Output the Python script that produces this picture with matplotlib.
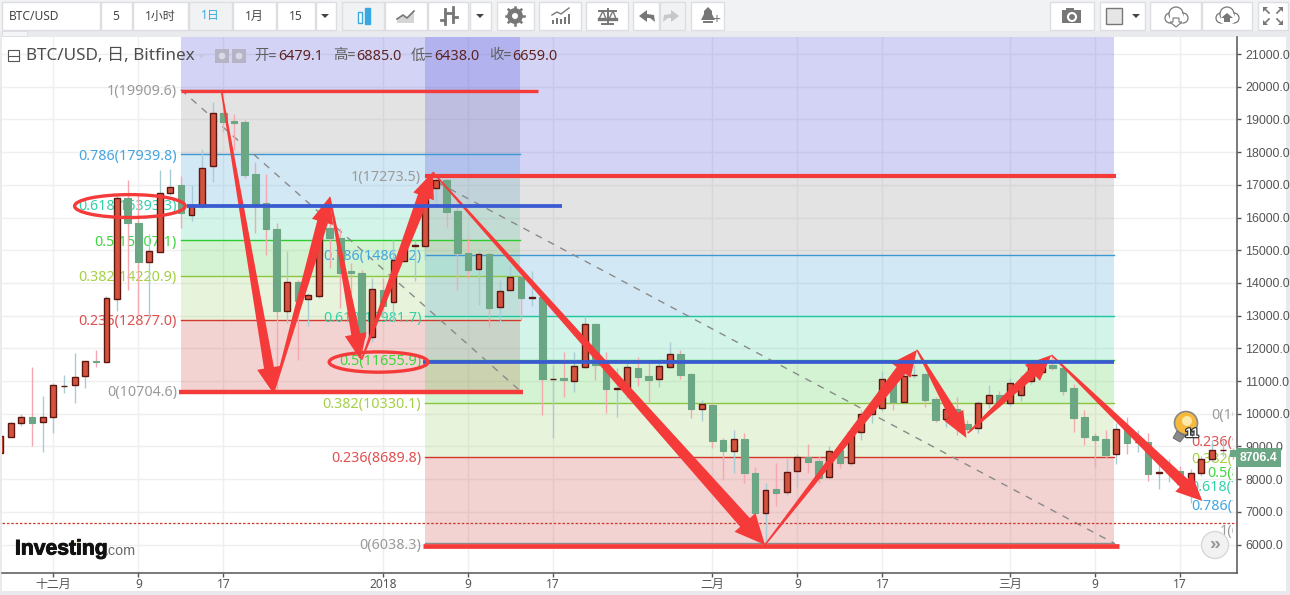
import numpy as np
import matplotlib
matplotlib.use('Agg')
import matplotlib.pyplot as plt
from matplotlib.patches import Rectangle, Polygon, Ellipse, Circle
from matplotlib.transforms import Bbox, IdentityTransform
import matplotlib.patheffects as pe

plt.rcParams['font.family'] = ['Noto Sans', 'Noto Sans CJK SC', 'DejaVu Sans']

# daily candles, first one is 26 Nov 2017, day 0 = 1 Dec
first_day = -5
opens = [8800, 9300, 9710, 9890, 9755, 9890, 10840, 10870, 11140, 11610, 11570, 13510, 16600, 15840, 14650, 14950,
         16750, 16994, 16086, 16350, 17575, 19195, 18950, 18920, 17330, 16440, 15650, 13150, 14030, 13500, 13608,
         15680, 15373, 14360, 14303, 12345, 13783, 13425, 14680, 15140, 15140, 16900, 17147, 16200, 14914, 14425,
         14884, 13262, 13783, 14190, 13540, 13578, 11050, 11092, 11010, 11437, 12743, 11490, 10770, 10786, 11398,
         11153, 11061, 11437, 11826, 11214, 10153, 10266, 9196, 8869, 9226, 8187, 6964, 7697, 7606, 8248, 8676,
         8554, 8064, 8890, 8502, 9450, 9990, 10175, 11030, 10367, 11170, 11214, 10450, 9829, 10144, 9685, 9563,
         10327, 10572, 10327, 10572, 11009, 11275, 11490, 11407, 10786, 9898, 9318, 9226, 8768, 9532, 9120, 9135,
         8177, 8210, 8248, 7758, 8196, 8615, 8880, 8890]
highs = [9320, 9750, 9990, 11440, 10541, 10939, 11180, 11860, 11600, 11950, 13600, 16650, 17150, 16688, 15500, 17450,
         17483, 17270, 16994, 18095, 19532, 19890, 19165, 18980, 17697, 17330, 15830, 14975, 14089, 13700, 15800,
         16500, 15680, 14600, 14395, 14150, 14160, 15312, 15500, 15312, 17000, 17273, 17200, 16500, 15373, 15000,
         14945, 14089, 14550, 14300, 14364, 13600, 11490, 11887, 11887, 12988, 12780, 11887, 11398, 11550, 11743,
         11550, 11673, 12193, 11948, 11250, 10419, 10320, 9250, 9502, 9410, 8370, 7881, 8493, 8645, 8768, 9074,
         8700, 9012, 9000, 9600, 10100, 10400, 11300, 11200, 11500, 11490, 11250, 10500, 10200, 10520, 9800, 10400,
         10878, 10700, 11092, 11180, 11600, 11700, 11750, 11500, 10908, 10113, 9410, 9502, 9716, 9899, 9502, 9410,
         8431, 8615, 8400, 8300, 8700, 9196, 9196, 8950]
lows = [8800, 9280, 9620, 9010, 8838, 9410, 10640, 10320, 10790, 11440, 11570, 13150, 13783, 13018, 12970, 14950,
        16700, 15680, 15893, 16300, 17095, 18614, 18060, 17200, 15526, 14853, 10700, 12774, 11642, 12682, 13547,
        14456, 13223, 13700, 12100, 12193, 12950, 12804, 14650, 14058, 14700, 16290, 15710, 13783, 14150, 13324,
        12660, 12813, 13750, 12865, 13293, 9960, 9257, 10520, 10673, 11400, 11030, 10031, 9908, 10480, 10847,
        10327, 10825, 11400, 11061, 9878, 9786, 8960, 7973, 8195, 7881, 6658, 6000, 7177, 7500, 7759, 8187,
        7881, 8000, 8349, 8400, 9200, 9707, 10081, 10113, 10327, 11100, 10214, 9755, 9603, 9349, 9400, 9410,
        10175, 10200, 10236, 10400, 10900, 11200, 11350, 10572, 9450, 9043, 8380, 8650, 8462, 8768, 8838, 7951,
        7697, 7911, 7737, 7269, 8100, 8550, 8700, 8600]
closes = [9320, 9725, 9890, 9725, 9890, 10869, 10860, 11130, 11600, 11590, 13530, 16600, 15840, 14650, 14980, 16750,
          16942, 16146, 16382, 17510, 19195, 18920, 18890, 17300, 16380, 15650, 13150, 14027, 13455, 13630, 15679,
          15373, 14303, 14300, 12345, 13813, 13293, 14700, 15140, 15160, 16840, 17147, 16177, 14905, 14394, 14884,
          13242, 13761, 14180, 13547, 13560, 11061, 11070, 11030, 11467, 12743, 11490, 10765, 10790, 11428, 11131,
          11030, 11459, 11826, 11192, 10153, 10297, 9174, 8869, 9226, 8195, 6964, 7667, 7585, 8226, 8676, 8532,
          8034, 8869, 8502, 9450, 9990, 10175, 11061, 10367, 11162, 11190, 10428, 9807, 10144, 9654, 9532, 10327,
          10572, 10327, 10939, 11009, 11428, 11490, 11407, 10704, 9878, 9296, 9205, 8737, 9532, 9113, 9140, 8165,
          8226, 8230, 7841, 8196, 8615, 8890, 8900, 8706.4]
last_close_line = 6659.0

x_tick_days = [0, 8, 16, 31, 39, 47, 62, 70, 78, 90, 98, 106]
x_tick_labels = ['十二月', '9', '17', '2018', '9', '17', '二月', '9', '17', '三月', '9', '17']
y_ticks = list(range(6000, 21001, 1000))

fib_ratios = ['1', '0.786', '0.618', '0.5', '0.382', '0.236', '0']
fib1_levels = [19909.6, 17939.8, 16393.3, 15307.1, 14220.9, 12877.0, 10704.6]
fib2_levels = [17273.5, 14864.2, 12981.7, 11655.9, 10330.1, 8689.8, 6038.3]
fib3_levels = [6444.0, 7210.0, 7810.0, 8232.0, 8655.0, 9177.0, 10021.0]
fib1_days = (12, 43.9)
fib2_days = (35, 99.8)

line_colors = ['#8c8c8c', '#3d97d3', '#1fc8a0', '#2ecc2e', '#8cc63f', '#d2392b', '#8c8c8c']
label_colors = ['#9a9a9a', '#45a5e0', '#35d0a8', '#3ed63e', '#a5d044', '#e05050', '#9a9a9a']
band_colors = ['#939393', '#4fa7d7', '#4fd7ab', '#53d34e', '#a7d372', '#d34f4f']
purple = '#5353db'

# hand drawn arrows: start day, start price, end day, end price, tail, body, head length, head width
arrows = [(15.8, 19900, 20.7, 10620, 1.5, 10, 26, 24),
          (20.7, 10620, 26.0, 16630, 1.5, 11, 26, 22),
          (26.0, 16630, 28.9, 11650, 1.5, 9, 26, 22),
          (29.0, 11650, 35.7, 17390, 1.5, 12, 26, 22),
          (35.7, 17390, 66.95, 5990, 1.5, 13, 30, 28),
          (66.95, 5990, 81.25, 11950, 1.5, 11, 26, 24),
          (81.25, 11950, 85.9, 9260, 1.5, 10, 26, 22),
          (86.05, 9410, 93.9, 11795, 1.5, 10, 26, 22),
          (93.9, 11795, 108.1, 7330, 1.5, 11, 26, 24)]

# these were drawn by hand on top of the fib levels, a little off them
red_lines = [(19880, 12, 45.6, 2.4), (17273.5, 35, 100, 3), (10665, 11.8, 44.2, 3.2), (5965, 34.8, 100.3, 3.4)]
blue_lines = [(16343, 12.6, 47.9), (11590, 34.8, 99.8)]

days = np.arange(first_day, first_day + len(opens))
opens_a, highs_a, lows_a, closes_a = map(np.array, (opens, highs, lows, closes))
up = closes_a >= opens_a

W, H = 1290, 595
fig = plt.figure(figsize=(W / 100, H / 100), dpi=100, facecolor='#e9eaee')


def pix_axes(z):
    a = fig.add_axes([0, 0, 1, 1], zorder=z)
    a.set_xlim(0, W)
    a.set_ylim(H, 0)
    a.axis('off')
    a.patch.set_alpha(0)
    return a


bg = pix_axes(0)
bg.add_patch(Rectangle((0, 0), W, 31, fc='#f1f2f4', ec='none'))
bg.add_patch(Rectangle((2, 37), 1284, 554, fc='white', ec='none'))
bg.add_patch(Rectangle((2, 31), 25, 5, fc='#f4f5f6', ec='#dcdde0', lw=0.6))

ax = fig.add_axes([2 / W, (H - 573) / H, 1234.7 / W, 536 / H], zorder=1)
ax.set_xlim(-4.83, 111.33)
ax.set_ylim(5129, 21520)
ax.set_facecolor('white')
for s in ['top', 'left']:
    ax.spines[s].set_visible(False)
ax.spines['right'].set_color('#555555')
ax.spines['bottom'].set_color('#555555')
ax.spines['right'].set_linewidth(1.1)
ax.spines['bottom'].set_linewidth(1.1)
ax.yaxis.tick_right()
ax.set_yticks(y_ticks)
ax.set_yticklabels(['%.1f' % v for v in y_ticks], family='Liberation Sans', fontsize=8.9, color='#555555')
ax.set_xticks(x_tick_days)
ax.set_xticklabels(x_tick_labels, fontsize=8.6, color='#555555')
ax.get_xticklabels()[3].set_fontweight('bold')
ax.tick_params(axis='both', length=3, width=1, color='#555555', pad=3)
ax.tick_params(axis='x', pad=0.5)
ax.grid(True, color='#efefef', lw=1)
ax.set_axisbelow(True)

# fibonacci bands
for levels, (d0, d1) in [(fib1_levels, fib1_days), (fib2_levels, fib2_days)]:
    ax.fill_between([d0, d1], levels[0], 23000, color=purple, alpha=0.25, lw=0, zorder=1)
    for i in range(6):
        ax.fill_between([d0, d1], levels[i + 1], levels[i], color=band_colors[i], alpha=0.25, lw=0, zorder=1)
    for i in range(7):
        ax.plot([d0, d1], [levels[i], levels[i]], color=line_colors[i], lw=1, zorder=2)
        ax.text(d0 - 0.38, levels[i], '%s(%.1f)' % (fib_ratios[i], levels[i]), ha='right', va='center_baseline',
                fontsize=10.3, color=label_colors[i], zorder=2.5)
    ax.plot([d0, d1], [levels[0], levels[-1]], color='#8a8a8a', lw=1, dashes=(5, 5), zorder=2.5)

clip = Bbox([[0, 0], [1233, H]])
for i in range(7):
    t = ax.text(115.5, fib3_levels[i], '%s(%.1f)' % (fib_ratios[i], fib3_levels[i]), ha='right', va='center_baseline',
                fontsize=10.3, color=label_colors[i], zorder=2.5)
    t.set_clip_box(clip)
    t.set_clip_on(True)

ax.axhline(last_close_line, color='#c8392b', lw=0.9, ls=(0, (2, 1.5)), zorder=2.6)

# candles
ax.vlines(days[up], lows_a[up], highs_a[up], color='#a9ccd3', lw=1, zorder=3)
ax.vlines(days[~up], lows_a[~up], highs_a[~up], color='#f5a8b0', lw=1, zorder=3)
ax.bar(days[up], (closes_a - opens_a)[up], bottom=opens_a[up], width=0.56, color='#d4533f',
       edgecolor='#5c1710', lw=1, zorder=4)
ax.bar(days[~up], (closes_a - opens_a)[~up], bottom=opens_a[~up], width=0.62, color='#6ba685',
       edgecolor='#6ba685', lw=0.8, zorder=4)

ax.text(1.0025, closes[-1], '%.1f' % closes[-1], transform=ax.get_yaxis_transform(), ha='left', va='center_baseline',
        color='white', fontsize=8.8, fontweight='bold', family='Liberation Sans', zorder=8,
        bbox=dict(fc='#6ba685', ec='none', pad=2.6))

# arrows, built in pixels so the taper stays the same whatever the scale
red = '#f53a3a'
for (d0, v0, d1, v1, tail, body, hl, hw) in arrows:
    p0, p1 = ax.transData.transform([(d0, v0), (d1, v1)])
    u = (p1 - p0) / np.hypot(*(p1 - p0))
    n = np.array([-u[1], u[0]])
    b = p1 - u * hl
    pts = [p0 + n * tail / 2, b + n * body / 2, b + n * hw / 2, p1, b - n * hw / 2, b - n * body / 2, p0 - n * tail / 2]
    ax.add_patch(Polygon(pts, closed=True, fc=red, ec='none', transform=IdentityTransform(), zorder=6, clip_on=False))

for v, d0, d1, lw in red_lines:
    ax.plot([d0, d1], [v, v], color=red, lw=lw, solid_capstyle='butt', zorder=7)
for v, d0, d1 in blue_lines:
    ax.plot([d0, d1], [v, v], color='#3a5ad2', lw=2.7, solid_capstyle='butt', zorder=7)

ax.add_patch(Ellipse((7.2, 16350), 10.4, 700, fc='none', ec=red, lw=2.4, zorder=7))
ax.add_patch(Ellipse((30.6, 11580), 9.3, 620, fc='none', ec=red, lw=2.4, zorder=7))

ui = pix_axes(2)

# header
ui.add_patch(Rectangle((8, 50), 11, 11, fc='white', ec='#555555', lw=0.8))
ui.plot([8, 19], [55.5, 55.5], color='#555555', lw=0.8)
ui.text(26, 56, 'BTC/USD, 日, Bitfinex', fontsize=12.3, color='#4d4d4d', va='center')
ui.add_patch(Polygon([(198, 54), (205, 54), (201.5, 58)], fc='#c6c6dd', ec='none'))
for x in (215, 232):
    ui.add_patch(Rectangle((x, 49), 14, 14, fc='#b4b4c4', ec='none'))
    ui.add_patch(Circle((x + 7, 56), 3.4, fc='#d8d8e8', ec='none'))
for x, s in [(254, '开='), (333, '高='), (411, '低='), (489, '收=')]:
    ui.text(x, 56, s, fontsize=10.4, color='#5f5f5f', va='center')
for x, s in [(278, '6479.1'), (356, '6885.0'), (434, '6438.0'), (512, '6659.0')]:
    ui.text(x, 56, s, fontsize=10.4, color='#5f2323', va='center')

# toolbar
buttons = [(2, 98), (101, 31), (133, 55), (189, 43), (233, 43), (277, 38), (316, 20), (342, 42), (385, 42),
           (428, 40), (470, 21), (497, 37), (539, 42), (586, 42), (633, 26), (660, 25), (691, 33),
           (1050, 44), (1100, 45), (1150, 51), (1202, 50), (1258, 30)]
for x, w in buttons:
    fill = '#f1f2f4' if x in (189, 342, 660) else 'white'
    ui.add_patch(Rectangle((x, 2), w, 28, fc=fill, ec='#dcdee2', lw=1))
ui.text(9, 16, 'BTC/USD', fontsize=8.6, color='#444444', va='center')
for cx, s, c in [(116, '5', '#444444'), (160, '1小时', '#444444'), (210, '1日', '#39a8e0'), (254, '1月', '#444444'),
                 (296, '15', '#444444')]:
    ui.text(cx, 16, s, fontsize=8.6, color=c, ha='center', va='center')
for cx in (325, 480, 1136):
    ui.add_patch(Polygon([(cx - 4, 14), (cx + 4, 14), (cx, 18)], fc='#444444', ec='none'))
# candle icon
ui.add_patch(Rectangle((358, 12), 4, 11, fc='white', ec='#39a8e0', lw=1))
ui.plot([360, 360], [10, 25], color='#39a8e0', lw=1, zorder=0.5)
ui.add_patch(Rectangle((365, 8), 5, 16, fc='#39a8e0', ec='#39a8e0', lw=1))
# area icon
ui.add_patch(Polygon([(397, 23), (397, 19), (403, 15), (407, 18), (414, 11), (414, 23)], fc='#d5d5d5', ec='none'))
ui.plot([397, 403, 407, 414], [19, 15, 18, 11], color='#777777', lw=1.2)
# bar icon
ui.plot([445, 445], [9, 24], color='#777777', lw=2)
ui.plot([441, 445], [20, 20], color='#777777', lw=2)
ui.plot([453, 453], [7, 22], color='#777777', lw=2)
ui.plot([453, 457], [17, 17], color='#777777', lw=2)
ui.plot([445, 453], [13, 13], color='#777777', lw=2)
# gear
ui.add_patch(Circle((515, 16), 5.5, fc='white', ec='#777777', lw=3.4))
for a in np.arange(0, np.pi, np.pi / 4):
    ui.plot([515 - 9 * np.cos(a), 515 + 9 * np.cos(a)], [16 - 9 * np.sin(a), 16 + 9 * np.sin(a)],
            color='#777777', lw=1.8, zorder=1)
ui.add_patch(Circle((515, 16), 3, fc='white', ec='none', zorder=3))
# indicators
ui.bar([553, 557, 561, 565, 569], [-4, -6, -5, -7, -10], bottom=24, width=2, color='#777777')
ui.plot([552, 557, 561, 565, 569], [15, 12, 14, 11, 8], color='#777777', lw=1)
# scales
ui.plot([599, 616], [11, 11], color='#777777', lw=1.4)
ui.plot([607.5, 607.5], [9, 24], color='#777777', lw=1.4)
ui.plot([602, 613], [24, 24], color='#777777', lw=1.4)
ui.plot([599, 603, 606], [19, 11, 19], color='#777777', lw=1)
ui.plot([609, 613, 616], [19, 11, 19], color='#777777', lw=1)
ui.plot([599, 606], [19, 19], color='#777777', lw=2.4)
ui.plot([609, 616], [19, 19], color='#777777', lw=2.4)
# undo / redo
ui.add_patch(Polygon([(639, 16), (647, 10), (647, 14), (654, 15), (655, 22), (650, 18), (647, 18), (647, 22)], fc='#777777', ec='none'))
ui.add_patch(Polygon([(679, 16), (671, 10), (671, 14), (664, 15), (663, 22), (668, 18), (671, 18), (671, 22)], fc='#c8c8c8', ec='none'))
# alert
ui.add_patch(Polygon([(701, 20), (704, 14), (704, 11), (708, 7), (712, 11), (712, 14), (715, 20)], fc='#777777', ec='none'))
ui.plot([704, 712], [22, 22], color='#777777', lw=1.4)
ui.text(716, 21, '+', fontsize=10, color='#777777', ha='center', va='center', fontweight='bold')
# camera
ui.add_patch(Rectangle((1062, 10), 19, 13, fc='#777777', ec='none'))
ui.add_patch(Rectangle((1066, 8), 8, 3, fc='#777777', ec='none'))
ui.add_patch(Circle((1072, 17), 4, fc='#777777', ec='white', lw=1.5))
ui.add_patch(Rectangle((1106, 8), 16, 16, fc='#e6e6e6', ec='#777777', lw=1))
# clouds
for cx in (1176, 1227):
    ui.add_patch(Circle((cx - 6, 18), 5, fc='white', ec='#777777', lw=0.9))
    ui.add_patch(Circle((cx + 7, 18), 5, fc='white', ec='#777777', lw=0.9))
    ui.add_patch(Circle((cx, 14), 7, fc='white', ec='#777777', lw=0.9))
    ui.add_patch(Rectangle((cx - 6, 14), 13, 9, fc='white', ec='none'))
arrow_shape = [(-3, 18), (3, 18), (3, 22), (6, 22), (0, 27), (-6, 22), (-3, 22)]
ui.add_patch(Polygon([(1176 + a, b) for a, b in arrow_shape], fc='white', ec='#777777', lw=0.8))
ui.add_patch(Polygon([(1227 + a, 40 - b) for a, b in arrow_shape], fc='#777777', ec='none'))
# fullscreen
for sx, sy in [(-1, -1), (1, -1), (-1, 1), (1, 1)]:
    cx, cy = 1273 + sx * 7, 16 + sy * 6
    ui.add_patch(Polygon([(cx + sx * 3, cy + sy * 3), (cx - sx * 2, cy + sy * 3), (cx + sx * 3, cy - sy * 2)],
                         fc='#777777', ec='none'))
    ui.plot([cx, cx - sx * 3], [cy, cy - sy * 3], color='#777777', lw=1.2)

# logo
logo = ui.text(15, 549, 'Investing', fontsize=15.2, fontweight='bold', family='Liberation Sans', color='#111111', va='center')
logo.set_path_effects([pe.withStroke(linewidth=0.7, foreground='#111111')])
ui.text(105, 551, '.com', fontsize=10.4, family='Liberation Sans', color='#6a6a6a', va='center')
ui.add_patch(Circle((78, 541), 1.3, fc='#f5a623', ec='none'))

# bulb
ui.add_patch(Circle((1186, 423), 11.5, fc='#f6b93b', ec='#888888', lw=1.2))
ui.add_patch(Circle((1187, 421), 5, fc='#fde9a9', ec='none'))
ui.add_patch(Polygon([(1177, 431), (1185, 436), (1180, 442), (1173, 438)], fc='#8a8a8a', ec='#666666', lw=0.6))
b = ui.text(1192, 434, '11', fontsize=9, fontweight='bold', color='white', ha='center', va='center', family='Liberation Sans')
b.set_path_effects([pe.withStroke(linewidth=1.8, foreground='#333333')])

# scroll button
ui.add_patch(Circle((1215, 545), 13.5, fc='#f2f2f2', ec='#d8d8d8', lw=1))
ui.text(1215, 544, '»', fontsize=14, fontweight='bold', color='#999999', ha='center', va='center', family='Liberation Sans')

fig.savefig('out.png', dpi=100, facecolor=fig.get_facecolor())
